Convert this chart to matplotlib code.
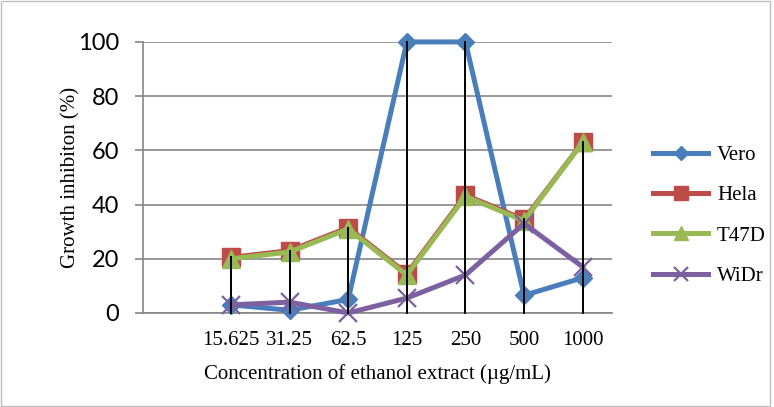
import matplotlib.pyplot as plt
from matplotlib.patches import Rectangle

# categories (first slot left blank as in the original chart)
concentrations = ["", "15.625", "31.25", "62.5", "125", "250", "500", "1000"]

vero = [None, 3, 1, 5, 100, 100, 6.5, 13]
hela = [None, 20.5, 23, 31.5, 14.5, 43.5, 34.5, 63]
t47d = [None, 20, 22.5, 31, 14, 43, 34, 63]
widr = [None, 3, 4, 0, 5.5, 14, 33, 17]

x = list(range(len(concentrations)))

fig = plt.figure(figsize=(7.74, 4.07), dpi=100)
ax = fig.add_axes([0.1848, 0.231, 0.6059, 0.666])

grid_col = '#868686'
ax.set_xlim(-0.5, len(concentrations) - 0.5)
ax.set_ylim(0, 100)
ax.set_yticks([0, 20, 40, 60, 80, 100])
ax.yaxis.grid(True, color=grid_col, linewidth=1.2)
ax.set_axisbelow(True)

def clean(vals):
    return [float('nan') if v is None else v for v in vals]

ax.plot(x, clean(vero), color='#4A7EBB', lw=3.6, marker='D', ms=9,
        label='Vero', clip_on=False, zorder=3)
ax.plot(x, clean(hela), color='#BE4B48', lw=3.6, marker='s', ms=13,
        label='Hela', clip_on=False, zorder=3)
ax.plot(x, clean(t47d), color='#98B954', lw=3.6, marker='^', ms=13,
        label='T47D', clip_on=False, zorder=3)
ax.plot(x, clean(widr), color='#7D60A0', lw=3.6, marker='x', ms=13, mew=1.6,
        label='WiDr', clip_on=False, zorder=3)

# drop lines from the highest point of each category to the axis
for i in x[1:]:
    top = max(vero[i], hela[i], t47d[i], widr[i])
    ax.plot([i, i], [0, top], color='black', lw=1.4, zorder=4, clip_on=False)

for side in ['top', 'right']:
    ax.spines[side].set_visible(False)
ax.spines['left'].set_color(grid_col)
ax.spines['bottom'].set_color(grid_col)
ax.spines['left'].set_linewidth(1.2)
ax.spines['bottom'].set_linewidth(1.2)

ax.set_xticks(x)
ax.set_xticklabels(concentrations, family='Liberation Serif', fontsize=15)
ax.tick_params(axis='x', length=0, pad=13)
ax.tick_params(axis='y', length=6, width=1.2, color=grid_col, pad=11,
               labelsize=17)
for lbl in ax.get_yticklabels():
    lbl.set_family('Lato')

ax.set_xlabel('Concentration of ethanol extract (µg/mL)',
              family='Liberation Serif', fontsize=15, labelpad=10)
ax.set_ylabel('Growth inhibiton (%)', family='Liberation Serif',
              fontsize=15, labelpad=-2)

fig.legend(loc='center left', bbox_to_anchor=(0.82, 0.47), frameon=False,
           prop={'family': 'Liberation Serif', 'size': 15},
           handlelength=2.6, handletextpad=0.45, labelspacing=1.0,
           markerscale=0.75)

fig.patches.append(Rectangle((0.001, 0.003), 0.994, 0.994, transform=fig.transFigure,
                             fill=False, edgecolor='#bfbfbf', lw=1))

fig.savefig('out.png', dpi=100)
